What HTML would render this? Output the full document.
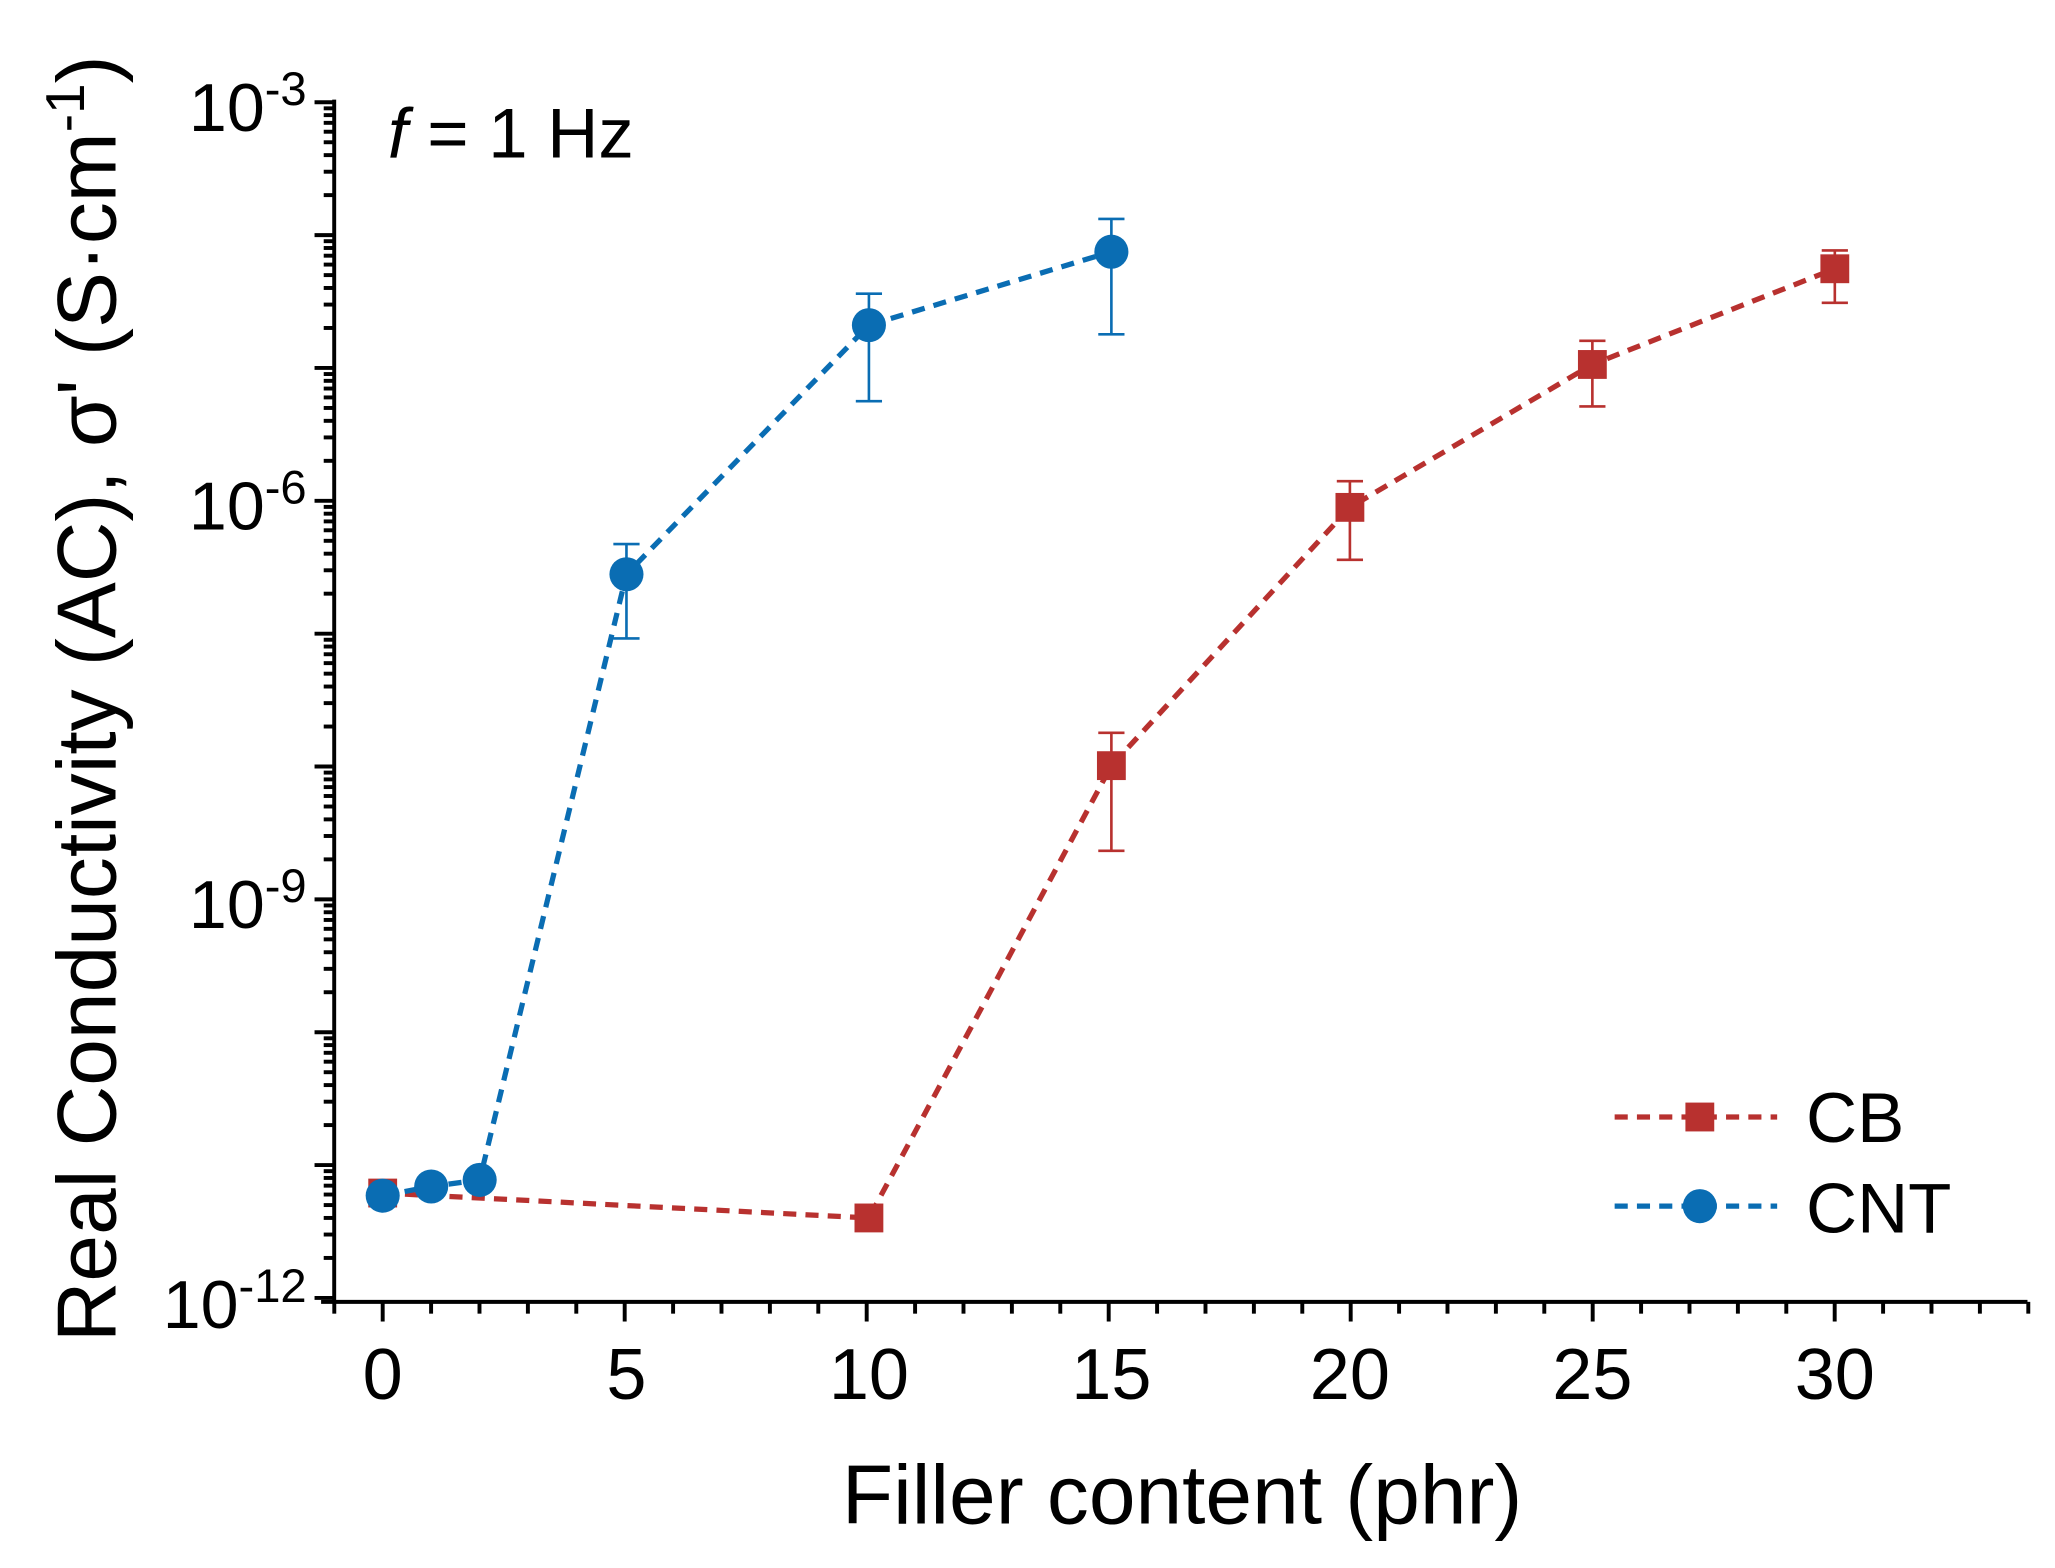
<!DOCTYPE html>
<html><head><meta charset="utf-8"><style>
html,body{margin:0;padding:0;background:#fff;}
svg{display:block;}
text{font-family:"Liberation Sans",Arial,sans-serif;fill:#000;}
</style></head><body>
<svg width="2055" height="1568" viewBox="0 0 1568 1196" preserveAspectRatio="none" xmlns="http://www.w3.org/2000/svg">
<g stroke="#000" stroke-width="3" fill="none">
<line x1="255" y1="76" x2="255" y2="994"/>
<line x1="245" y1="993" x2="1547" y2="993"/>
</g>
<g stroke="#000" stroke-width="3" id="ticks"></g>
<g font-size="55" text-anchor="middle">
<text x="292" y="1067">0</text><text x="478" y="1067">5</text><text x="663" y="1067">10</text>
<text x="848" y="1067">15</text><text x="1030" y="1067">20</text><text x="1215" y="1067">25</text><text x="1400" y="1067">30</text>
</g>
<g font-size="52" text-anchor="end">
<text x="234" y="100">10<tspan font-size="36" dy="-20">-3</tspan></text>
<text x="234" y="404">10<tspan font-size="36" dy="-20">-6</tspan></text>
<text x="234" y="708">10<tspan font-size="36" dy="-20">-9</tspan></text>
<text x="234" y="1013">10<tspan font-size="36" dy="-20">-12</tspan></text>
</g>
<text x="902" y="1162" font-size="64" text-anchor="middle">Filler content (phr)</text>
<text transform="translate(88,533) rotate(-90)" font-size="64" text-anchor="middle">Real Conductivity (AC), σ' (S·cm<tspan font-size="42" dy="-24">-1</tspan><tspan dy="24">)</tspan></text>
<text x="296" y="120" font-size="54"><tspan font-style="italic">f</tspan> = 1 Hz</text>
<!-- CB -->
<g stroke="#b8312f" stroke-width="2" fill="none">
<path d="M848,559V649M838,559H858M838,649H858M1030,367V427M1020,367H1040M1020,427H1040M1215,260V310M1205,260H1225M1205,310H1225M1400,191V231M1390,191H1410M1390,231H1410"/>
</g>
<polyline points="292,910 663,929 848,584 1030,387 1215,278 1400,205" fill="none" stroke="#b8312f" stroke-width="4" stroke-dasharray="10,7"/>
<g fill="#b8312f">
<rect x="281" y="899" width="22" height="22"/><rect x="652" y="918" width="22" height="22"/>
<rect x="837" y="573" width="22" height="22"/><rect x="1019" y="376" width="22" height="22"/>
<rect x="1204" y="267" width="22" height="22"/><rect x="1389" y="194" width="22" height="22"/>
</g>
<!-- CNT -->
<g stroke="#0a6db3" stroke-width="2" fill="none">
<path d="M478,415V487M468,415H488M468,487H488M663,224V306M653,224H673M653,306H673M848,167V255M838,167H858M838,255H858"/>
</g>
<polyline points="292,912 329,905 366,900 478,438 663,248 848,192" fill="none" stroke="#0a6db3" stroke-width="4" stroke-dasharray="10,7"/>
<g fill="#0a6db3">
<circle cx="292" cy="912" r="13"/><circle cx="329" cy="905" r="13"/><circle cx="366" cy="900" r="13"/>
<circle cx="478" cy="438" r="13"/><circle cx="663" cy="248" r="13"/><circle cx="848" cy="192" r="13"/>
</g>
<!-- legend -->
<line x1="1232" y1="852" x2="1356" y2="852" stroke="#b8312f" stroke-width="4" stroke-dasharray="10,7"/>
<rect x="1286" y="841" width="22" height="22" fill="#b8312f"/>
<text x="1378" y="871" font-size="54">CB</text>
<line x1="1232" y1="920" x2="1356" y2="920" stroke="#0a6db3" stroke-width="4" stroke-dasharray="10,7"/>
<circle cx="1297" cy="920" r="13" fill="#0a6db3"/>
<text x="1378" y="940" font-size="54">CNT</text>
<script>
(function(){
var g=document.getElementById('ticks'),ns='http://www.w3.org/2000/svg';
function L(a,b,c,d){var l=document.createElementNS(ns,'line');l.setAttribute('x1',a);l.setAttribute('y1',b);l.setAttribute('x2',c);l.setAttribute('y2',d);g.appendChild(l);}
for(var v=-1;v<=34;v++){var x=292+v*36.93;L(x,993,x,v%5==0?1008:1002);}
var dec=(990-78)/9;
for(var k=0;k<9;k++){var y0=990-k*dec;L(240,y0,255,y0);for(var m=2;m<=9;m++){var y=y0-Math.log10(m)*dec;L(247,y,255,y);}}
L(240,78,255,78);
})();
</script>
</svg>
</body></html>
